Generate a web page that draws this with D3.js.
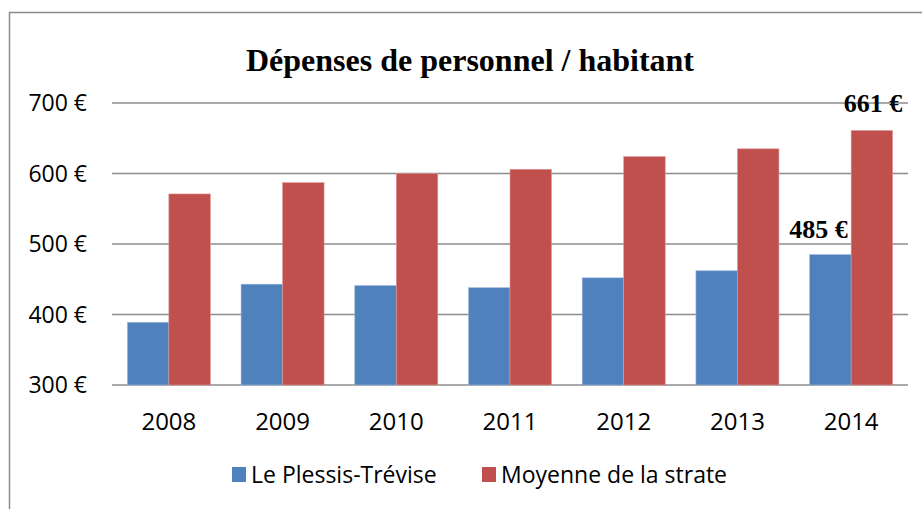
<!DOCTYPE html>
<html>
<head>
<meta charset="utf-8">
<script src="https://cdn.jsdelivr.net/npm/d3@7"></script>
<style>
  body { margin: 0; background: #fff; }
  svg { display: block; }
</style>
</head>
<body>
<svg width="922" height="509"></svg>
<script>
// données
const years = ["2008", "2009", "2010", "2011", "2012", "2013", "2014"];
const plessis = [389, 443, 441, 438, 452, 462, 485];
const moyenne = [571, 587, 600, 606, 624, 635, 661];
const seriesNames = ["Le Plessis-Trévise", "Moyenne de la strate"];
const yTicks = [300, 400, 500, 600, 700];

const svg = d3.select("svg");
const colors = ["#4F81BD", "#C0504D"];
const axisFont = "'Open Sans', 'Noto Sans', sans-serif";
const serif = "'Liberation Serif', 'Times New Roman', serif";

// cadre du graphique
svg.append("rect")
  .attr("x", 9.5)
  .attr("y", 12.5)
  .attr("width", 930)
  .attr("height", 520)
  .attr("fill", "white")
  .attr("stroke", "#8a8a8a")
  .attr("stroke-width", 1.5);

// titre
svg.append("text")
  .attr("x", 470)
  .attr("y", 71)
  .attr("text-anchor", "middle")
  .style("font-family", serif)
  .style("font-weight", "bold")
  .style("font-size", "32px")
  .text("Dépenses de personnel / habitant");

const x0 = d3.scaleBand().domain(years).range([112, 908]).paddingInner(0.27).paddingOuter(0.135);
const x1 = d3.scaleBand().domain([0, 1]).range([0, x0.bandwidth()]);
const y = d3.scaleLinear().domain([300, 700]).range([385, 103]);

// grille
svg.append("g")
  .selectAll("line")
  .data(yTicks)
  .join("line")
  .attr("x1", 112)
  .attr("x2", 908)
  .attr("y1", d => y(d))
  .attr("y2", d => y(d))
  .attr("stroke", "#8c8c8c")
  .attr("stroke-width", 1.5);

// étiquettes axe Y
svg.append("g")
  .selectAll("text")
  .data(yTicks)
  .join("text")
  .attr("x", 87)
  .attr("y", d => y(d))
  .attr("dy", "0.36em")
  .attr("text-anchor", "end")
  .style("font-family", axisFont)
  .style("font-size", "23px")
  .text(d => d + " €");

// barres
const groups = svg.append("g")
  .selectAll("g")
  .data(years)
  .join("g")
  .attr("transform", d => `translate(${x0(d)},0)`);

groups.selectAll("rect")
  .data((d, i) => [plessis[i], moyenne[i]])
  .join("rect")
  .attr("x", (d, j) => x1(j))
  .attr("y", d => y(d))
  .attr("width", x1.bandwidth())
  .attr("height", d => y(300) - y(d))
  .attr("fill", (d, j) => colors[j])
  .attr("stroke", (d, j) => j === 0 ? "#9db7dc" : "#dc9a98")
  .attr("stroke-width", 0.6);

// étiquettes axe X
svg.append("g")
  .selectAll("text")
  .data(years)
  .join("text")
  .attr("x", d => x0(d) + x0.bandwidth() / 2)
  .attr("y", 430)
  .attr("text-anchor", "middle")
  .style("font-family", axisFont)
  .style("font-size", "24px")
  .text(d => d);

// valeurs 2014
const last = years.length - 1;
svg.append("text")
  .attr("x", x0(years[last]) + x1(0) + x1.bandwidth() / 2 - 12)
  .attr("y", y(plessis[last]) - 17)
  .attr("text-anchor", "middle")
  .style("font-family", serif)
  .style("font-weight", "bold")
  .style("font-size", "26px")
  .text(plessis[last] + " €");

svg.append("text")
  .attr("x", x0(years[last]) + x1(1) + x1.bandwidth() / 2 + 1)
  .attr("y", y(moyenne[last]) - 18)
  .attr("text-anchor", "middle")
  .style("font-family", serif)
  .style("font-weight", "bold")
  .style("font-size", "26px")
  .text(moyenne[last] + " €");

// légende
const legendX = [232, 482];
const legend = svg.append("g")
  .selectAll("g")
  .data(seriesNames)
  .join("g")
  .attr("transform", (d, i) => `translate(${legendX[i]},467)`);

legend.append("rect")
  .attr("width", 14)
  .attr("height", 15)
  .attr("fill", (d, i) => colors[i]);

legend.append("text")
  .attr("x", 19)
  .attr("y", 7.5)
  .attr("dy", "0.36em")
  .style("font-family", axisFont)
  .style("font-size", "23px")
  .text(d => d);
</script>
</body>
</html>
